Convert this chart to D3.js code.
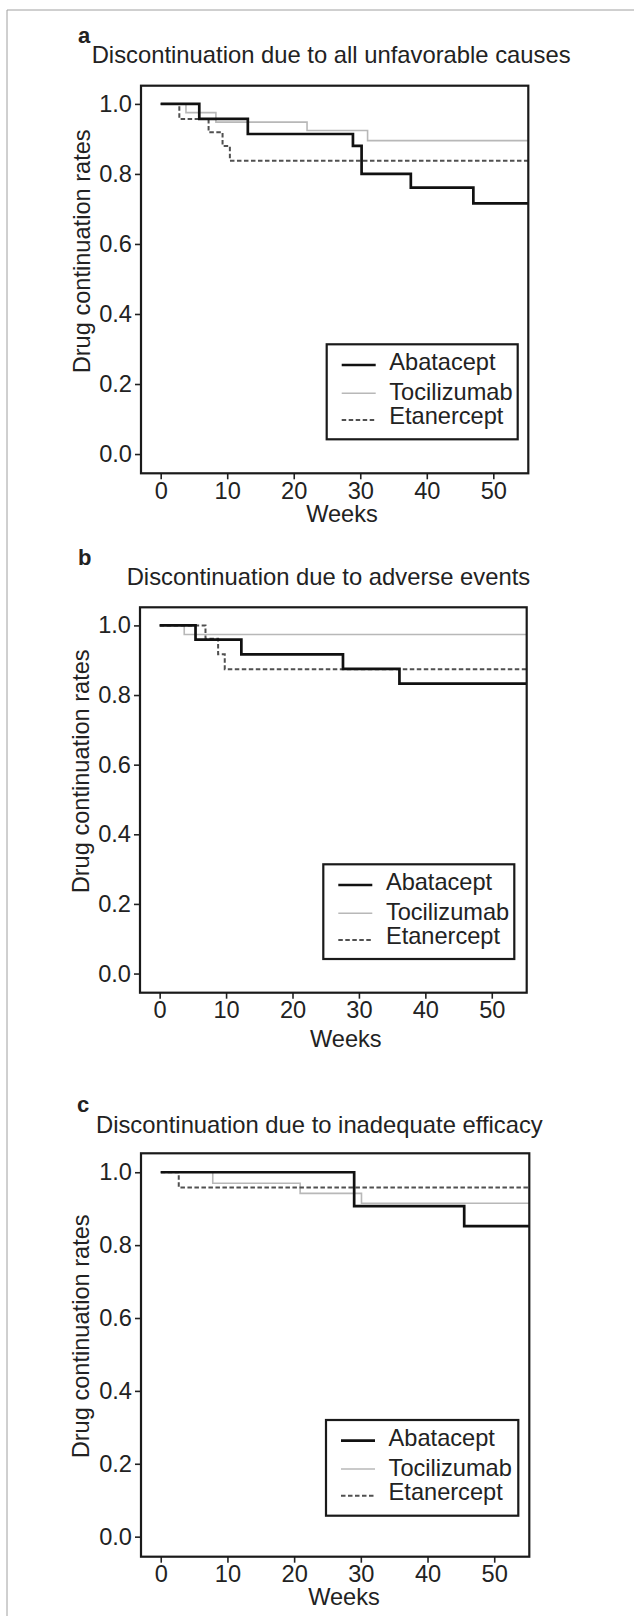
<!DOCTYPE html>
<html>
<head>
<meta charset="utf-8">
<script src="https://cdn.jsdelivr.net/npm/d3@7"></script>
<style>
  body { margin: 0; background: #fff; }
  text { font-family: "Liberation Sans", Arial, sans-serif; fill: #222; }
</style>
</head>
<body>
<svg id="chart" width="634" height="1616"></svg>
<script>
// series + labels
var seriesNames = ['Abatacept', 'Tocilizumab', 'Etanercept']
var panelLetters = ['a', 'b', 'c']
var titles = [
  'Discontinuation due to all unfavorable causes',
  'Discontinuation due to adverse events',
  'Discontinuation due to inadequate efficacy'
]
var xTicks = [0, 10, 20, 30, 40, 50]
var yTicks = [0, 0.2, 0.4, 0.6, 0.8, 1.0]

// [week, continuation rate]
var abataceptA = [[0, 1], [5.8, 0.957], [13.1, 0.914], [28.9, 0.88], [30.2, 0.80], [37.6, 0.761], [47.0, 0.716], [55.3, 0.716]]
var tocilizumabA = [[0, 1], [3.8, 0.975], [8.3, 0.948], [22.0, 0.924], [31.1, 0.895], [55.3, 0.895]]
var etanerceptA = [[0, 1], [2.8, 0.957], [7.2, 0.919], [9.3, 0.88], [10.4, 0.838], [55.3, 0.838]]

var abataceptB = [[0, 1], [5.4, 0.959], [12.3, 0.917], [27.6, 0.875], [36.1, 0.833], [55.3, 0.833]]
var tocilizumabB = [[0, 1], [3.7, 0.974], [55.3, 0.974]]
var etanerceptB = [[0, 1], [6.9, 0.962], [8.8, 0.917], [9.8, 0.874], [55.3, 0.874]]

var abataceptC = [[0, 1], [29.0, 0.907], [45.5, 0.852], [55.3, 0.852]]
var tocilizumabC = [[0, 1], [7.8, 0.970], [20.9, 0.942], [30.1, 0.915], [55.3, 0.915]]
var etanerceptC = [[0, 1], [2.7, 0.958], [55.3, 0.958]]

var panelData = [
  [abataceptA, tocilizumabA, etanerceptA],
  [abataceptB, tocilizumabB, etanerceptB],
  [abataceptC, tocilizumabC, etanerceptC]
]

// layout of each panel on the page
var layout = [
  {frame: {l: 141, r: 528.3, t: 85.7, b: 473.3}, letter: [78, 43], title: [91.7, 63], ylab: [90, 373.3], weeks: [342, 521.7], legend: [326.7, 344.3, 191, 95]},
  {frame: {l: 140, r: 526.7, t: 607.3, b: 992.7}, letter: [78, 565], title: [126.7, 585], ylab: [89, 893.3], weeks: [345.8, 1046.7], legend: [323.3, 864.3, 191, 94.7]},
  {frame: {l: 141, r: 529.3, t: 1153.3, b: 1556.7}, letter: [77, 1112], title: [96, 1133], ylab: [88.5, 1458.3], weeks: [344, 1605], legend: [326, 1420, 192.3, 95.7]}
]

var styles = [
  {stroke: '#111', width: 2.7, dash: null},
  {stroke: '#b8b8b8', width: 1.6, dash: null},
  {stroke: '#505050', width: 2, dash: '4.5,2.5'}
]
var drawOrder = [1, 2, 0]
var fontSize = 23.6

var svg = d3.select('#chart')

// thin page border (top and left only)
svg.append('path')
  .attr('d', 'M7,1616V10H634')
  .attr('fill', 'none')
  .attr('stroke', '#a0a0a0')
  .attr('stroke-width', 1)

layout.forEach(function (L, i) {
  var f = L.frame
  var x = d3.scaleLinear().domain([-2.96, 55.26]).range([f.l, f.r])
  var y = d3.scaleLinear().domain([-0.055, 1.052]).range([f.b, f.t])

  var g = svg.append('g')

  g.append('text')
    .attr('x', L.letter[0]).attr('y', L.letter[1])
    .attr('font-size', 22).attr('font-weight', 'bold')
    .text(panelLetters[i])

  g.append('text')
    .attr('x', L.title[0]).attr('y', L.title[1])
    .attr('font-size', 23.8)
    .text(titles[i])

  var yAxis = g.append('g')
    .attr('transform', 'translate(' + f.l + ',0)')
    .call(d3.axisLeft(y).tickValues(yTicks).tickFormat(d3.format('.1f')).tickSize(6).tickPadding(3))
  var xAxis = g.append('g')
    .attr('transform', 'translate(0,' + f.b + ')')
    .call(d3.axisBottom(x).tickValues(xTicks).tickSize(6).tickPadding(2.5))

  ;[xAxis, yAxis].forEach(function (ax) {
    ax.select('.domain').remove()
    ax.selectAll('line').attr('stroke', '#222').attr('stroke-width', 1.6)
    ax.selectAll('text').attr('font-size', fontSize).attr('font-family', null).style('fill', '#222')
  })

  g.append('text')
    .attr('transform', 'translate(' + L.ylab[0] + ',' + L.ylab[1] + ') rotate(-90)')
    .attr('font-size', fontSize)
    .text('Drug continuation rates')

  g.append('text')
    .attr('x', L.weeks[0]).attr('y', L.weeks[1])
    .attr('text-anchor', 'middle')
    .attr('font-size', fontSize)
    .text('Weeks')

  var line = d3.line()
    .x(function (d) { return x(d[0]) })
    .y(function (d) { return y(d[1]) })
    .curve(d3.curveStepAfter)

  drawOrder.forEach(function (s) {
    g.append('path')
      .datum(panelData[i][s])
      .attr('d', line)
      .attr('fill', 'none')
      .attr('stroke', styles[s].stroke)
      .attr('stroke-width', styles[s].width)
      .attr('stroke-dasharray', styles[s].dash)
  })

  g.append('rect')
    .attr('x', f.l).attr('y', f.t)
    .attr('width', f.r - f.l).attr('height', f.b - f.t)
    .attr('fill', 'none')
    .attr('stroke', '#1a1a1a')
    .attr('stroke-width', 2.2)

  // legend
  var lg = L.legend
  var leg = g.append('g').attr('transform', 'translate(' + lg[0] + ',' + lg[1] + ')')
  leg.append('rect')
    .attr('width', lg[2]).attr('height', lg[3])
    .attr('fill', '#fff')
    .attr('stroke', '#1a1a1a')
    .attr('stroke-width', 2.2)
  var rowLine = [20.7, 49, 75.7]
  var rowText = [25.7, 55.7, 80]
  seriesNames.forEach(function (name, s) {
    leg.append('line')
      .attr('x1', 15).attr('x2', 49)
      .attr('y1', rowLine[s]).attr('y2', rowLine[s])
      .attr('stroke', styles[s].stroke)
      .attr('stroke-width', styles[s].width)
      .attr('stroke-dasharray', styles[s].dash)
    leg.append('text')
      .attr('x', 62.6).attr('y', rowText[s])
      .attr('font-size', fontSize)
      .text(name)
  })
})
</script>
</body>
</html>
